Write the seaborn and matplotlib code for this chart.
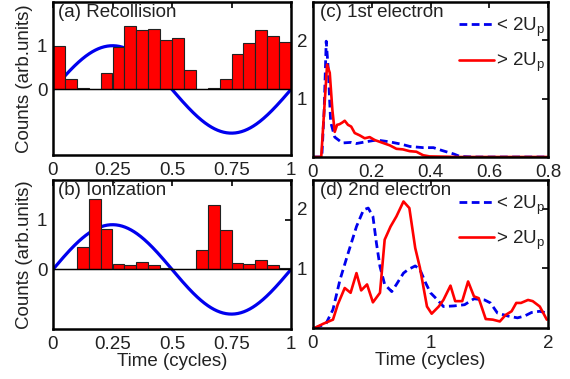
import numpy as np
import pandas as pd
import matplotlib
matplotlib.use("Agg")
import matplotlib.pyplot as plt
import seaborn as sns

sns.set_theme(style="white")
plt.rcParams['font.family'] = ['Liberation Sans', 'DejaVu Sans']
plt.rcParams['mathtext.fontset'] = 'custom'
plt.rcParams['mathtext.rm'] = 'Liberation Sans'
plt.rcParams['mathtext.it'] = 'Liberation Sans'

# ---------------- data ----------------
bin_edges = [round(i * 0.05, 2) for i in range(21)]
recollision_counts = [1.00, 0.25, 0.04, 0.01, 0.38, 0.98, 1.44, 1.35, 1.38, 1.14,
                      1.17, 0.44, 0.02, 0.03, 0.24, 0.80, 1.07, 1.37, 1.22, 1.09]
ionization_counts = [0.00, 0.00, 0.46, 1.41, 0.81, 0.11, 0.08, 0.15, 0.08, 0.02,
                     0.00, 0.00, 0.40, 1.30, 0.79, 0.13, 0.11, 0.18, 0.08, 0.03]
field_amp_a = 1.0
field_amp_b = 0.9

# (c) 1st electron
c_low_x = [0.0, 0.030, 0.038, 0.045, 0.052, 0.060, 0.074, 0.100, 0.130, 0.147, 0.180,
           0.216, 0.260, 0.300, 0.330, 0.375, 0.410, 0.440, 0.480, 0.500, 0.550, 0.800]
c_low_y = [0.0, 0.0, 0.80, 1.98, 1.50, 0.60, 0.34, 0.24, 0.25, 0.23, 0.26,
           0.29, 0.26, 0.22, 0.18, 0.16, 0.16, 0.11, 0.05, 0.01, 0.0, 0.0]
c_high_x = [0.0, 0.028, 0.048, 0.057, 0.066, 0.074, 0.082, 0.090, 0.100, 0.108, 0.119,
            0.130, 0.142, 0.159, 0.176, 0.193, 0.210, 0.227, 0.244, 0.261, 0.284,
            0.306, 0.329, 0.352, 0.375, 0.397, 0.454, 0.490, 0.800]
c_high_y = [0.0, 0.0, 1.58, 1.44, 0.80, 0.43, 0.55, 0.56, 0.59, 0.62, 0.55,
            0.52, 0.41, 0.37, 0.32, 0.34, 0.29, 0.26, 0.23, 0.20, 0.14,
            0.13, 0.10, 0.09, 0.03, 0.01, 0.005, 0.0, 0.0]

# (d) 2nd electron
d_low_x = [0.014, 0.11, 0.17, 0.23, 0.30, 0.37, 0.43, 0.47, 0.51, 0.54, 0.57, 0.61,
           0.67, 0.71, 0.77, 0.81, 0.87, 0.91, 0.96, 1.00, 1.06, 1.11, 1.20, 1.29,
           1.37, 1.46, 1.51, 1.57, 1.66, 1.74, 1.80, 1.86, 1.93, 1.99]
d_low_y = [0.00, 0.07, 0.31, 0.81, 1.26, 1.70, 1.98, 2.01, 1.87, 1.42, 1.03, 0.73,
           0.61, 0.73, 0.92, 0.98, 1.04, 0.98, 0.75, 0.59, 0.47, 0.36, 0.37, 0.39,
           0.49, 0.47, 0.42, 0.25, 0.20, 0.17, 0.20, 0.26, 0.28, 0.25]
d_high_x = [0.014, 0.086, 0.17, 0.21, 0.27, 0.32, 0.37, 0.41, 0.46, 0.51, 0.57, 0.61,
            0.66, 0.71, 0.77, 0.82, 0.87, 0.91, 0.97, 1.01, 1.07, 1.11, 1.17, 1.21,
            1.27, 1.32, 1.37, 1.41, 1.47, 1.53, 1.59, 1.64, 1.69, 1.73, 1.77, 1.83,
            1.87, 1.93, 1.99]
d_high_y = [0.00, 0.07, 0.14, 0.39, 0.67, 0.59, 0.92, 0.63, 0.73, 0.43, 0.59, 1.48,
            1.70, 1.87, 2.12, 2.01, 1.34, 1.01, 0.36, 0.24, 0.36, 0.47, 0.71, 0.45,
            0.45, 0.78, 0.53, 0.50, 0.15, 0.14, 0.11, 0.22, 0.28, 0.42, 0.42, 0.47,
            0.45, 0.36, 0.14]

label_low = r'< 2U$_{\rm p}$'
label_high = r'> 2U$_{\rm p}$'

# ---------------- figure ----------------
W, H = 570, 379
fig = plt.figure(figsize=(W / 100, H / 100), dpi=100)

def rect(x0, x1, y0, y1):
    return [x0 / W, 1 - y1 / H, (x1 - x0) / W, (y1 - y0) / H]

ax_a = fig.add_axes(rect(53, 291, 2, 155))
ax_b = fig.add_axes(rect(53, 291, 180, 329))
ax_c = fig.add_axes(rect(313, 548, 2, 157))
ax_d = fig.add_axes(rect(313, 548, 180, 328))

FS = 13.5
blue = '#0000ee'
red = '#ff0000'

def style(ax):
    for s in ax.spines.values():
        s.set_linewidth(1.8)
        s.set_color('black')
        s.set_visible(True)
    ax.tick_params(direction='in', top=True, right=True, length=4, width=1.2,
                   labelsize=FS, colors='black')
    ax.tick_params(axis='x', pad=5)
    ax.tick_params(axis='y', pad=4)
    for lab in ax.get_xticklabels() + ax.get_yticklabels():
        lab.set_color('#222222')

t = np.linspace(0, 1, 400)
centers = [(bin_edges[i] + bin_edges[i + 1]) / 2 for i in range(20)]

for ax, counts, amp, ylim, title in [
        (ax_a, recollision_counts, field_amp_a, (-1.5, 2.0), '(a) Recollision'),
        (ax_b, ionization_counts, field_amp_b, (-1.2, 1.8), '(b) Ionization')]:
    sns.lineplot(x=t, y=amp * np.sin(2 * np.pi * t), ax=ax, color=blue, lw=2.3)
    sns.histplot(x=centers, weights=counts, bins=bin_edges, ax=ax, color=red,
                 edgecolor='#222222', linewidth=0.8, alpha=1)
    for ln in ax.lines:
        ln.set_zorder(1)
    for p in ax.patches:
        p.set_zorder(2)
    ax.axhline(0, color='black', lw=1.0, zorder=3)
    ax.set_xlim(0, 1)
    ax.set_ylim(*ylim)
    ax.set_xticks([0, 0.25, 0.5, 0.75, 1])
    ax.set_xticklabels(['0', '0.25', '0.5', '0.75', '1'])
    ax.set_yticks([0, 1])
    ax.set_ylabel('Counts (arb.units)', fontsize=FS, labelpad=3, color='#222222')
    ax.set_xlabel('')
    ax.text(0.02, 0.985, title, transform=ax.transAxes, ha='left', va='top',
            fontsize=FS, color='#222222', zorder=5)
    style(ax)

ax_b.set_xlabel('Time (cycles)', fontsize=FS, labelpad=0, color='#222222')

for ax, lx, ly, hx, hy, xlim, ylim, xt, xtl, title in [
        (ax_c, c_low_x, c_low_y, c_high_x, c_high_y, (0, 0.8), (0, 2.65),
         [0, 0.2, 0.4, 0.6, 0.8], ['0', '0.2', '0.4', '0.6', '0.8'], '(c) 1st electron'),
        (ax_d, d_low_x, d_low_y, d_high_x, d_high_y, (0, 2), (0, 2.48),
         [0, 1, 2], ['0', '1', '2'], '(d) 2nd electron')]:
    sns.lineplot(x=lx, y=ly, ax=ax, color=blue, lw=2.0, label=label_low,
                 linestyle=(0, (2.8, 1.6)), sort=False)
    sns.lineplot(x=hx, y=hy, ax=ax, color=red, lw=1.9, label=label_high, sort=False)
    ax.set_xlim(*xlim)
    ax.set_ylim(*ylim)
    ax.set_xticks(xt)
    ax.set_xticklabels(xtl)
    ax.set_yticks([1, 2])
    ax.set_ylabel('')
    ax.text(0.03, 0.985, title, transform=ax.transAxes, ha='left', va='top',
            fontsize=FS, color='#222222')
    leg = ax.legend(loc='upper right', frameon=False, fontsize=FS, handlelength=1.9,
                    handletextpad=0.1, borderaxespad=0.0, labelspacing=0.65,
                    bbox_to_anchor=(1.02, 0.96))
    for txt in leg.get_texts():
        txt.set_color('#222222')
    style(ax)

ax_d.set_xlabel('Time (cycles)', fontsize=FS, labelpad=0, color='#222222')

fig.savefig('out.png', dpi=100)
